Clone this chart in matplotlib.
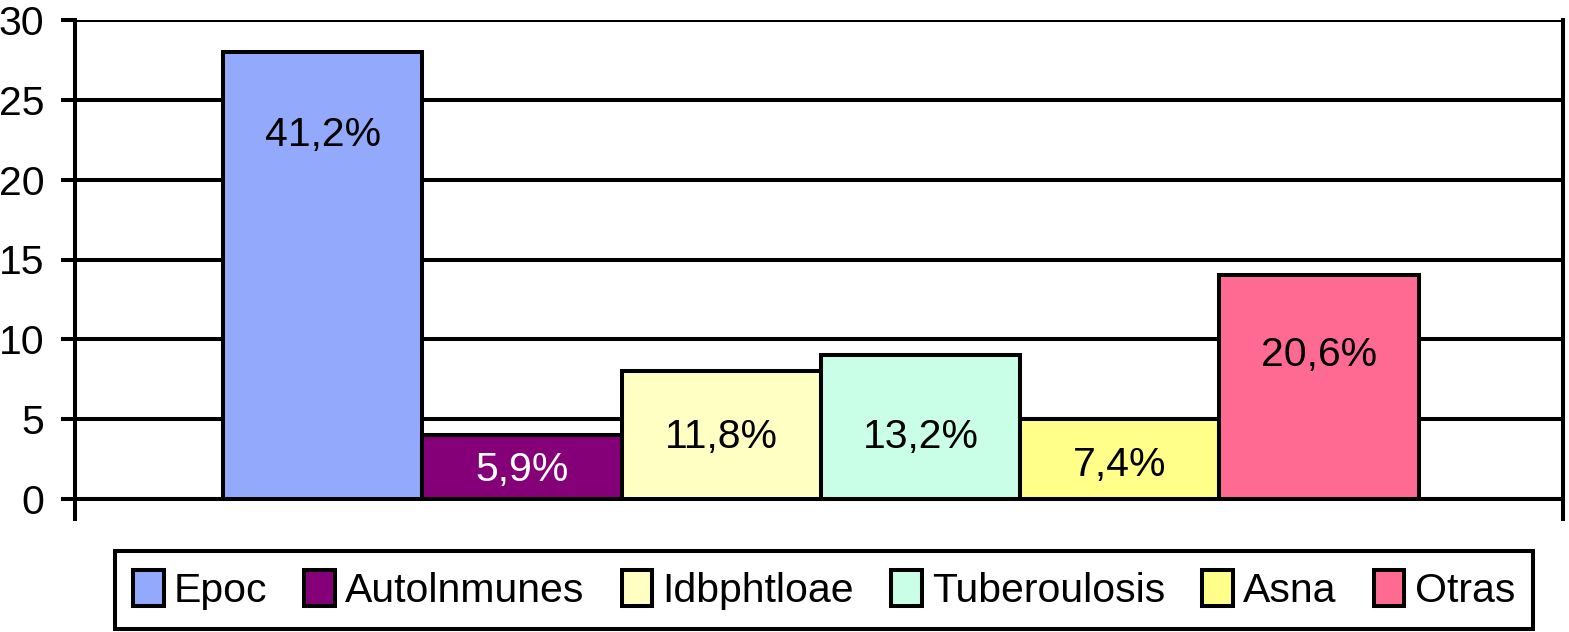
import matplotlib
matplotlib.use("Agg")
import matplotlib.pyplot as plt
from matplotlib.patches import Patch

# Data
categories = ["Epoc", "AutoInmunes", "Idbphtloae", "Tuberoulosis", "Asna", "Otras"]
legend_labels = ["Epoc", "Autolnmunes", "Idbphtloae", "Tuberoulosis", "Asna", "Otras"]
values = [28, 4, 8, 9, 5, 14]
pct_labels = ["41,2%", "5,9%", "11,8%", "13,2%", "7,4%", "20,6%"]
colors = ["#93A9FC", "#850078", "#FFFFC4", "#C9FFE6", "#FFFF8A", "#FF6A93"]
label_colors = ["black", "white", "black", "black", "black", "black"]
label_y = [22.8, 1.8, 3.9, 3.9, 2.1, 9.0]

plt.rcParams["font.family"] = ["Liberation Sans", "DejaVu Sans"]
FS = 29.5
LW = 2.9

fig = plt.figure(figsize=(15.69, 6.32), dpi=100)
ax = fig.add_axes([75 / 1569, 1 - 499 / 632, (1563 - 75) / 1569, (499 - 20) / 632])

bar_w = 0.1339
start = 0.0995
for i, (cat, v, c) in enumerate(zip(categories, values, colors)):
    x = start + bar_w * (i + 0.5)
    ax.bar(x, v, width=bar_w, color=c, edgecolor="black", linewidth=LW, zorder=3)
    ax.text(x, label_y[i], pct_labels[i], ha="center", va="center",
            fontsize=FS, color=label_colors[i], zorder=4)

ax.set_xlim(0, 1)
ax.set_ylim(0, 30)
ax.set_yticks(range(0, 31, 5))
ax.set_xticks([0, 1])
ax.set_xticklabels([])
ax.yaxis.grid(True, color="black", linewidth=LW, zorder=0)
ax.set_axisbelow(True)
ax.tick_params(axis="y", labelsize=FS, length=10, width=LW, pad=12, direction="out")
ax.tick_params(axis="x", length=16, width=LW, direction="out")
ax.spines["top"].set_visible(False)
for s in ["left", "right", "bottom"]:
    ax.spines[s].set_linewidth(LW)

handles = [Patch(facecolor=c, edgecolor="black", linewidth=LW) for c in colors]
leg = fig.legend(handles, legend_labels, loc="center",
                 bbox_to_anchor=((118 + 1530) / 2 / 1569, 1 - 590 / 632),
                 ncol=6, fontsize=FS, frameon=True, fancybox=False, framealpha=1,
                 handlelength=0.75, handleheight=1.0, handletextpad=0.25,
                 columnspacing=0.9, borderpad=0.45)
leg.get_frame().set_edgecolor("black")
leg.get_frame().set_linewidth(LW)

fig.savefig("out.png", dpi=100)
